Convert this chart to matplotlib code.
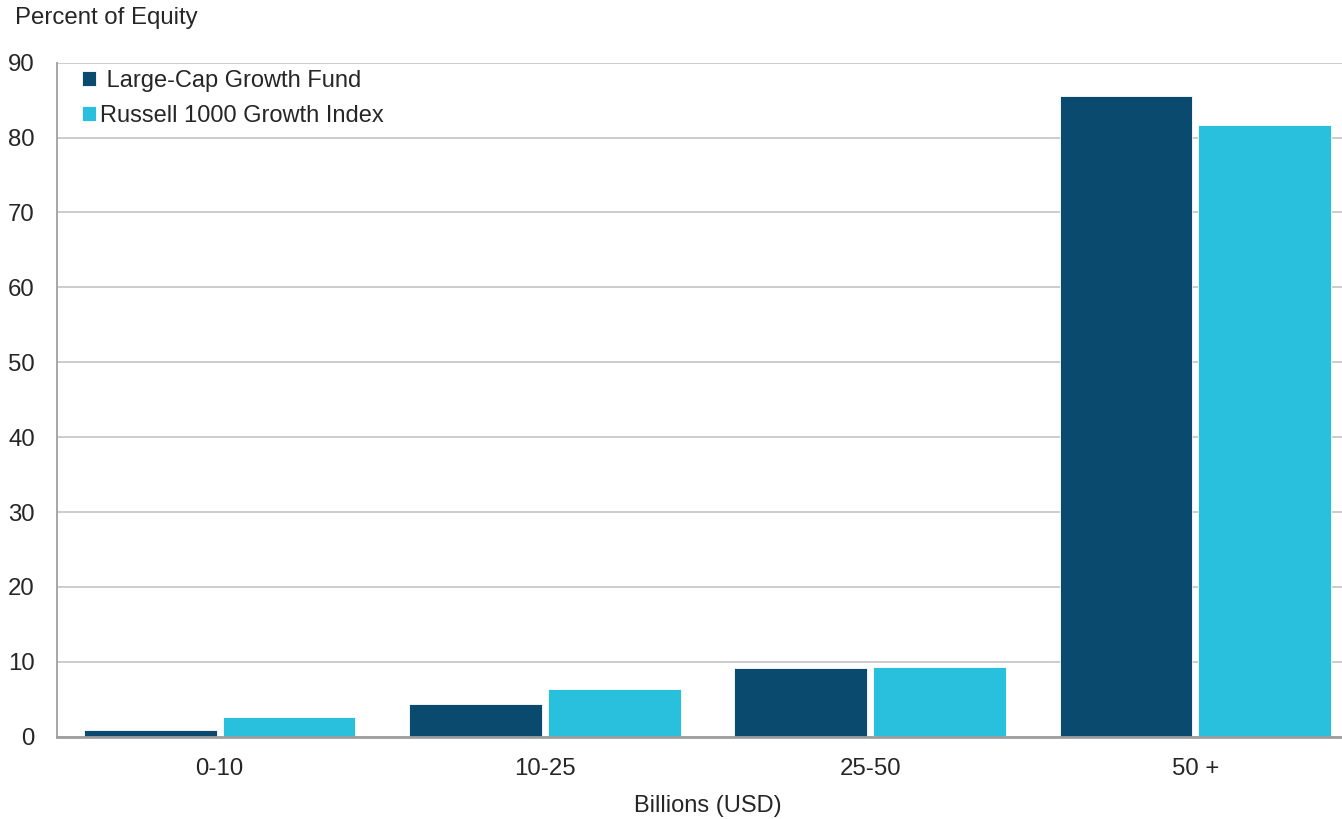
import matplotlib
matplotlib.use("Agg")
import matplotlib.pyplot as plt
import numpy as np

categories = ["0-10", "10-25", "25-50", "50 +"]
fund_values = [0.9, 4.4, 9.2, 85.5]
index_values = [2.6, 6.4, 9.3, 81.7]
series_names = [" Large-Cap Growth Fund", "Russell 1000 Growth Index"]
y_ticks = [0, 10, 20, 30, 40, 50, 60, 70, 80, 90]

DARK = "#0A4A6E"
LIGHT = "#29C0DE"
TEXT = "#262626"

plt.rcParams["font.family"] = ["Liberation Sans", "DejaVu Sans"]

W, H = 1342, 819
fig = plt.figure(figsize=(W / 100, H / 100), dpi=100)
# plot area runs slightly past the right edge of the canvas
ax = fig.add_axes([57 / W, 1 - 736.7 / H, (1358 - 57) / W, (736.7 - 62.7) / H])

x = np.arange(len(categories))
width = 0.408
offset = 0.213
ax.bar(x - offset, fund_values, width, color=DARK, edgecolor="white",
       linewidth=0.6, label=series_names[0], zorder=3)
ax.bar(x + offset, index_values, width, color=LIGHT, edgecolor="white",
       linewidth=0.6, label=series_names[1], zorder=3)

ax.set_xlim(-0.5, len(categories) - 0.5)
ax.set_ylim(0, 90)
ax.set_yticks(y_ticks)
ax.set_xticks(x)
ax.set_xticklabels(categories)
ax.tick_params(axis="both", length=0, labelsize=17.3, labelcolor=TEXT)
ax.tick_params(axis="y", pad=16)
ax.tick_params(axis="x", pad=15.5)

ax.grid(axis="y", color="#BFBFBF", linewidth=1.1, zorder=0)
ax.set_axisbelow(True)
for side in ("top", "right"):
    ax.spines[side].set_visible(False)
ax.spines["left"].set_color("#A6A6A6")
ax.spines["left"].set_linewidth(1.4)
ax.spines["bottom"].set_color("#9E9E9E")
ax.spines["bottom"].set_linewidth(2.0)
ax.spines["bottom"].set_zorder(4)

ax.set_xlabel("Billions (USD)", fontsize=17, color=TEXT, labelpad=10.5)
fig.text(15 / W, 1 - 18 / H, "Percent of Equity", fontsize=17.3,
         color=TEXT, ha="left", va="center")

leg = ax.legend(loc="upper left",
                bbox_to_anchor=(81.5 / W, 1 - 70 / H),
                bbox_transform=fig.transFigure, frameon=False,
                fontsize=17, handlelength=0.6, handleheight=0.6,
                handletextpad=0.2, labelspacing=0.55,
                borderaxespad=0, borderpad=0)
for t in leg.get_texts():
    t.set_color(TEXT)

fig.savefig("out.png", dpi=100, facecolor="white")
